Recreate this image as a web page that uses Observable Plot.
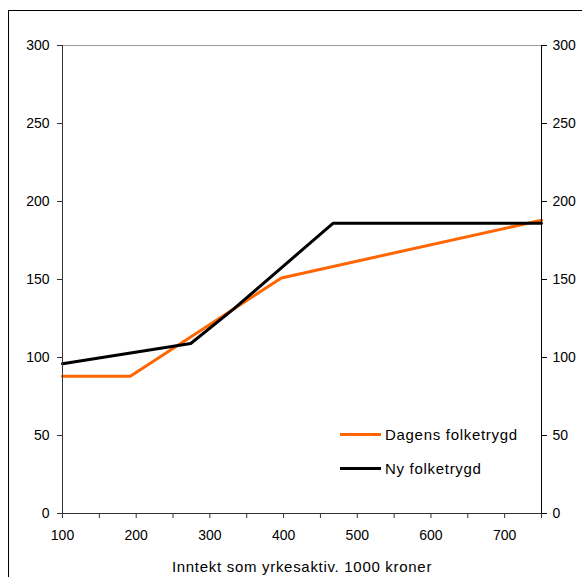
<!DOCTYPE html>
<html>
<head>
<meta charset="utf-8">
<script src="https://cdn.jsdelivr.net/npm/d3@7"></script>
<script src="https://cdn.jsdelivr.net/npm/@observablehq/plot@0.6"></script>
<style>
  html, body { margin: 0; padding: 0; background: #fff; }
  #wrap { position: relative; width: 582px; height: 577px; overflow: hidden; font-family: "Liberation Sans", Arial, sans-serif; }
  #frame { position: absolute; left: 8px; top: 10px; width: 700px; height: 700px; border-left: 1px solid #000; border-top: 1px solid #000; }
  #chart { position: absolute; left: 0; top: 0; }
  #chart svg g[aria-label="text"] text { letter-spacing: 0.7px; }
  .legend { position: absolute; left: 340px; font-size: 15px; letter-spacing: 0.7px; color: #000; display: flex; align-items: center; }
  .legend span.sw { display: inline-block; width: 41px; height: 3px; margin-right: 4px; }
</style>
</head>
<body>
<div id="wrap">
  <div id="frame"></div>
  <div id="chart"></div>
</div>
<script>
// Pension (1000 kroner) by income as active worker (1000 kroner)
const seriesNames = ["Dagens folketrygd", "Ny folketrygd"];
const seriesColors = ["#ff6600", "#000000"];

const dagensIncome = [100, 192, 397, 750];
const dagensPension = [88, 88, 151, 188];

const nyIncome = [100, 274, 332, 467, 750];
const nyPension = [96, 109, 131, 186, 186];

const xTicks = [100, 150, 200, 250, 300, 350, 400, 450, 500, 550, 600, 650, 700, 750];
const xTickLabels = ["100", "", "200", "", "300", "", "400", "", "500", "", "600", "", "700", ""];
const yTicks = [0, 50, 100, 150, 200, 250, 300];
const xTitle = "Inntekt som yrkesaktiv. 1000 kroner";

const dagens = dagensIncome.map((x, i) => ({x, y: dagensPension[i], s: seriesNames[0]}));
const ny = nyIncome.map((x, i) => ({x, y: nyPension[i], s: seriesNames[1]}));

const font = "Liberation Sans, Arial, sans-serif";

const chart = Plot.plot({
  width: 582,
  height: 577,
  marginLeft: 62,
  marginRight: 41,
  marginTop: 45,
  marginBottom: 64,
  style: {fontFamily: font, fontSize: "14px", color: "#000", background: "transparent", overflow: "visible"},
  x: {domain: [100, 750]},
  y: {domain: [0, 300]},
  marks: [
    Plot.ruleY([300], {x1: 100, x2: 750, stroke: "#9a9a9a", strokeWidth: 1}),
    Plot.line(dagens, {x: "x", y: "y", stroke: seriesColors[0], strokeWidth: 3}),
    Plot.line(ny, {x: "x", y: "y", stroke: seriesColors[1], strokeWidth: 3}),
    Plot.ruleX([100], {y1: 0, y2: 300, stroke: "#333", strokeWidth: 1}),
    Plot.ruleX([750], {y1: 0, y2: 300, stroke: "#000", strokeWidth: 1}),
    Plot.ruleY([0], {x1: 100, x2: 750, stroke: "#333", strokeWidth: 1}),
    Plot.axisY(yTicks, {anchor: "left", tickSize: 5, tickPadding: 8, label: null, fontSize: 14, stroke: "#333"}),
    Plot.axisY(yTicks, {anchor: "right", tickSize: 5, tickPadding: 6, label: null, fontSize: 14}),
    Plot.axisX(xTicks, {anchor: "bottom", tickSize: 5, tickPadding: 12, label: null, fontSize: 14, stroke: "#333",
      tickFormat: (d) => xTickLabels[xTicks.indexOf(d)]}),
    Plot.text([xTitle], {frameAnchor: "bottom", dy: 58, fontSize: 15, fill: "#000"})
  ]
});
document.getElementById("chart").appendChild(chart);

// Legend entries
const wrap = document.getElementById("wrap");
[435, 469].forEach((top, i) => {
  const row = document.createElement("div");
  row.className = "legend";
  row.style.top = (top - 9) + "px";
  const sw = document.createElement("span");
  sw.className = "sw";
  sw.style.background = seriesColors[i];
  const label = document.createElement("span");
  label.textContent = seriesNames[i];
  row.appendChild(sw);
  row.appendChild(label);
  wrap.appendChild(row);
});
</script>
</body>
</html>
